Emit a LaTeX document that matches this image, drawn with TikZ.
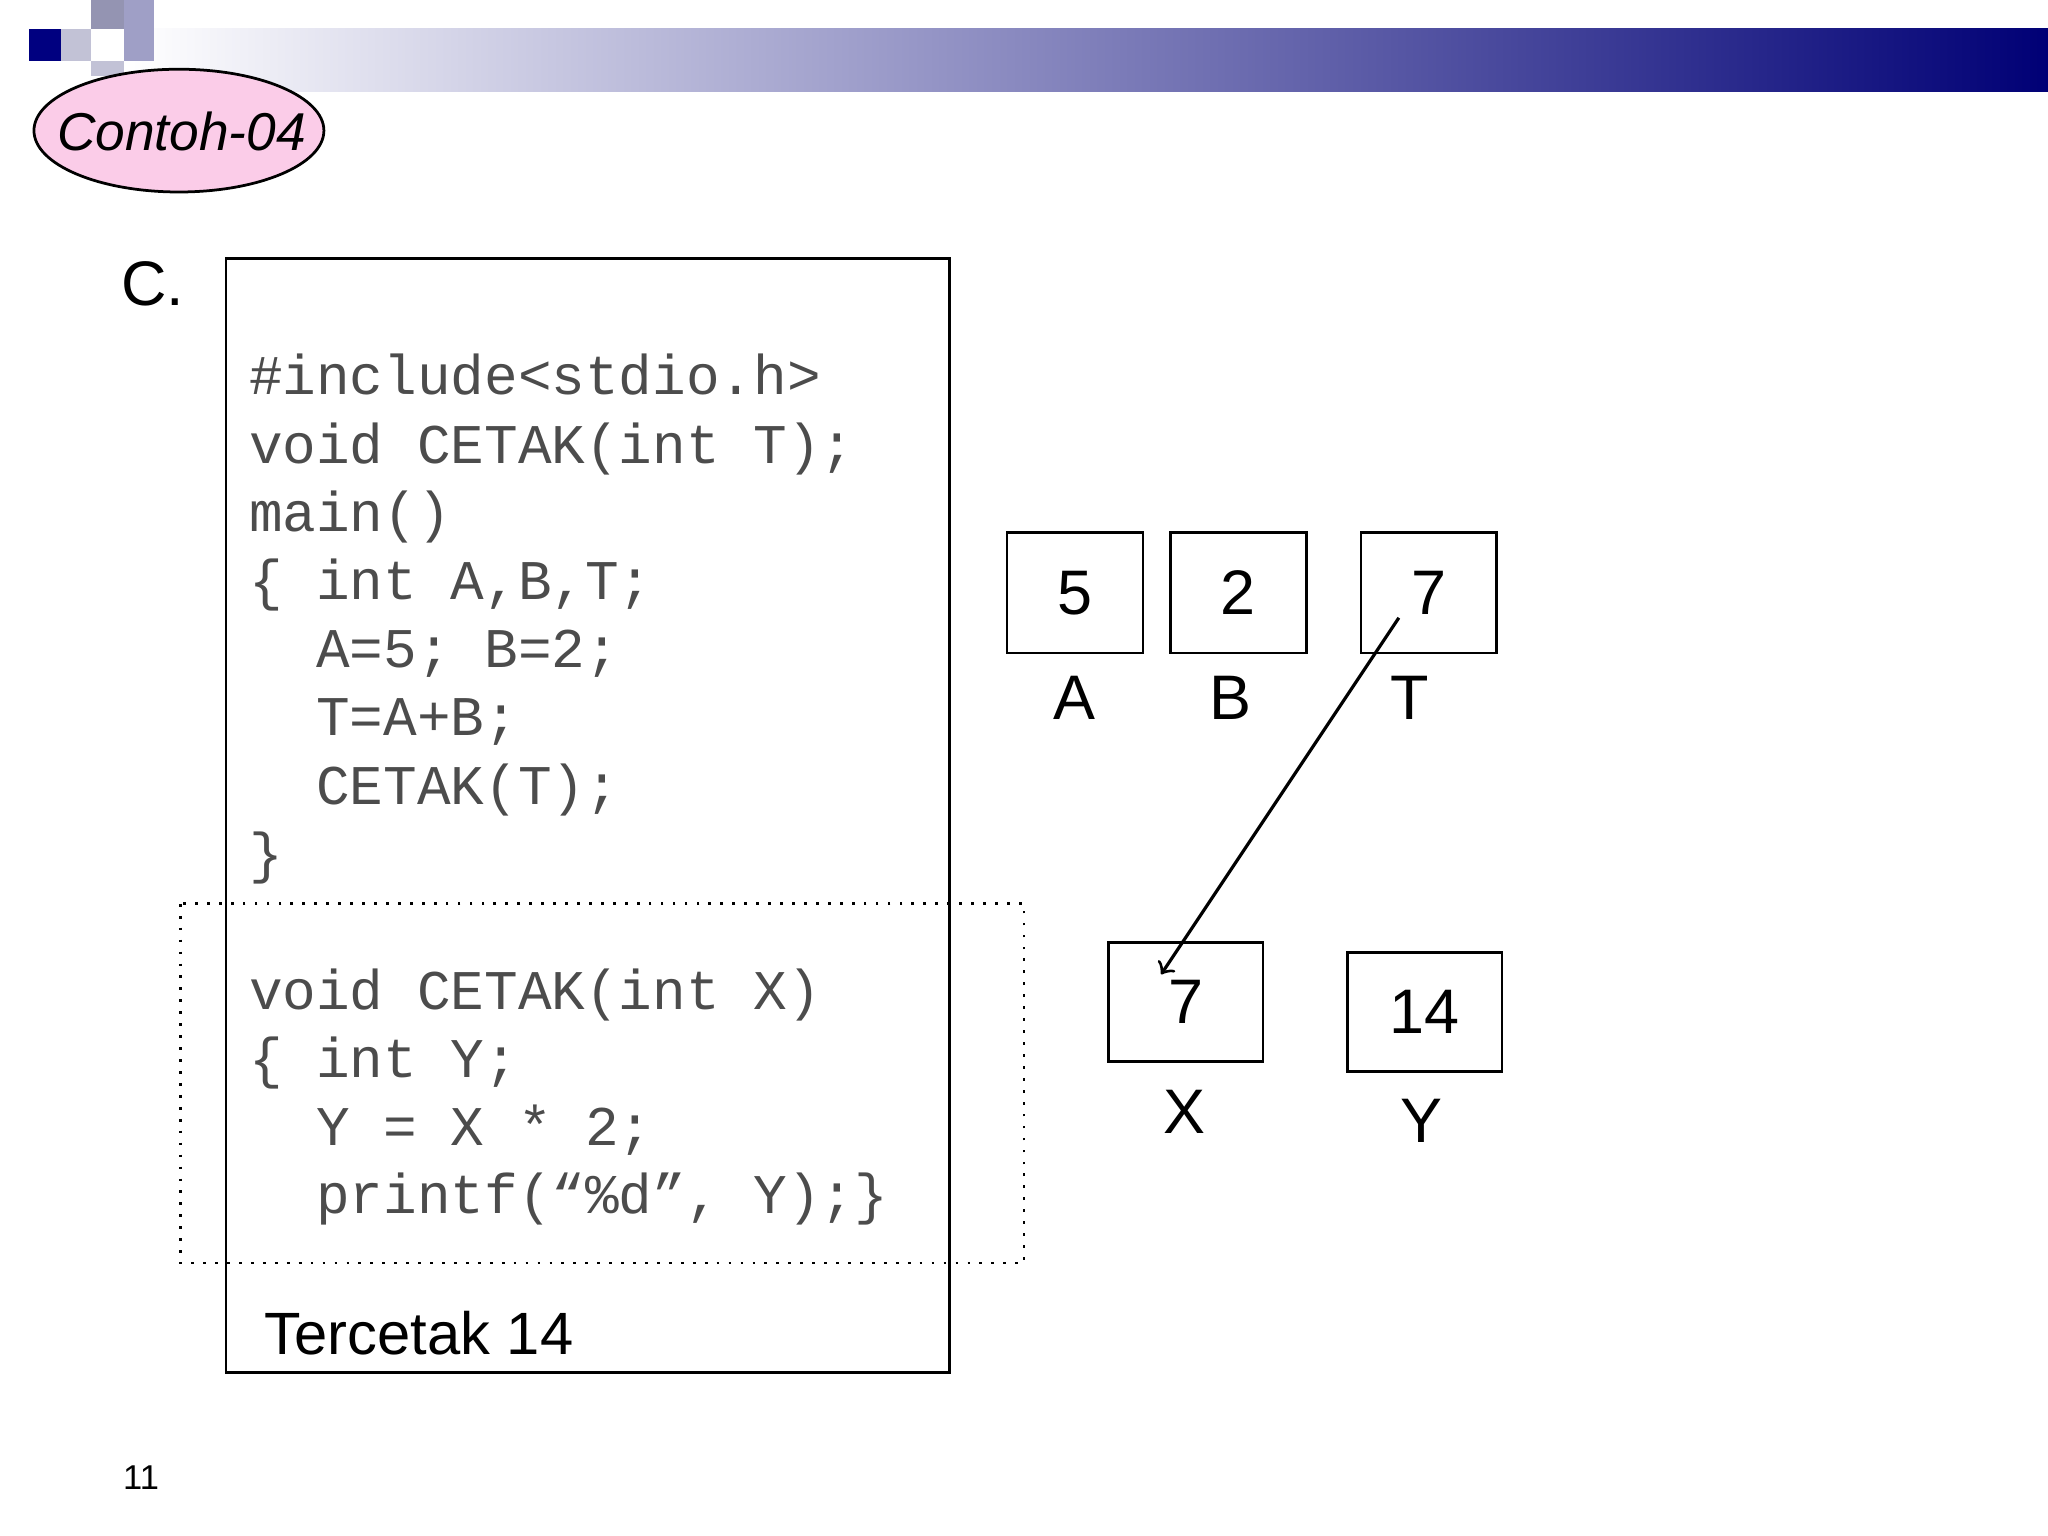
\documentclass[tikz,border=0pt]{standalone}
\usepackage{fontspec}
\usetikzlibrary{shapes.geometric}
\setmainfont{Liberation Sans}
\newfontfamily\codefont{Liberation Mono}
\begin{document}
\begin{tikzpicture}[x=0.01cm,y=-0.01cm,
  code/.style={anchor=base west,inner sep=0,font=\codefont\fontsize{12.2}{14}\selectfont,text=black!70},
  big/.style={inner sep=0,font=\fontsize{13.7}{16}\selectfont},
  cell/.style={draw,line width=0.6pt,minimum width=1.04cm,minimum height=0.92cm,inner sep=0,font=\fontsize{13.7}{16}\selectfont}]
\useasboundingbox (0,0) rectangle (1568,1176);
% header
\shade[left color=white,right color=blue!40!black!90!blue, shading angle=90] (100,22) rectangle (1568,70);
\fill[white!70!blue!40!gray] (70,0) rectangle (95,22);
\fill[blue!25!gray!60] (95,0) rectangle (118,47);
\fill[blue!20!gray!40] (47,22) rectangle (70,47);
\fill[blue!20!gray!40] (70,47) rectangle (95,58);
\fill[blue!50!black] (22,22) rectangle (47,47);
\draw[fill=magenta!20,line width=0.6pt] (137,100) ellipse [x radius=111, y radius=47];
\node[inner sep=0,font=\itshape\fontsize{11.6}{14}\selectfont] (title) at (139,101) {Contoh-04};
\node[big,anchor=base] (c) at (117,234) {C.};
% boxes
\draw[line width=0.6pt] (173,198) rectangle (727,1051);
\draw[line width=0.6pt,dotted] (138,692) rectangle (784,967);
\node[code] (l1) at (190,302) {\#include<stdio.h>};
\node[code] (l2) at (190,355) {void CETAK(int T);};
\node[code] (l3) at (190,407) {main()};
\node[code] (l4) at (190,459) {\{ int A,B,T;};
\node[code] (l5) at (190,511) {\ \ A=5; B=2;};
\node[code] (l6) at (190,563) {\ \ T=A+B;};
\node[code] (l7) at (190,616) {\ \ CETAK(T);};
\node[code] (l8) at (190,668) {\}};
\node[code] (m1) at (190,773) {void CETAK(int X)};
\node[code] (m2) at (190,825) {\{ int Y;};
\node[code] (m3) at (190,877) {\ \ Y = X * 2;};
\node[code] (m4) at (190,929) {\ \ printf(“\%d”, Y);\}};
\node[inner sep=0,anchor=base west,font=\fontsize{13}{16}\selectfont] (out) at (202,1037) {Tercetak 14};
% memory cells
\node[cell] (A) at (823,454) {5};
\node[cell] (B) at (948,454) {2};
\node[cell] (T) at (1094,454) {7};
\node[cell,minimum width=1.18cm,minimum height=0.91cm] (X) at (908,767) {7};
\node[cell,minimum width=1.18cm,minimum height=0.91cm] (Y) at (1091,775) {14};
\node[big] (la) at (823,534) {A};
\node[big] (lb) at (942,534) {B};
\node[big] (lt) at (1079,534) {T};
\node[big] (lx) at (907,851) {X};
\node[big] (ly) at (1088,858) {Y};
\coordinate (s) at (1071,473);
\coordinate (e) at (889,746);
\draw[->,line width=0.7pt] (s) -- (e);
\node[inner sep=0,font=\fontsize{7.5}{9}\selectfont] (pg) at (108,1131) {11};
\end{tikzpicture}
\end{document}
